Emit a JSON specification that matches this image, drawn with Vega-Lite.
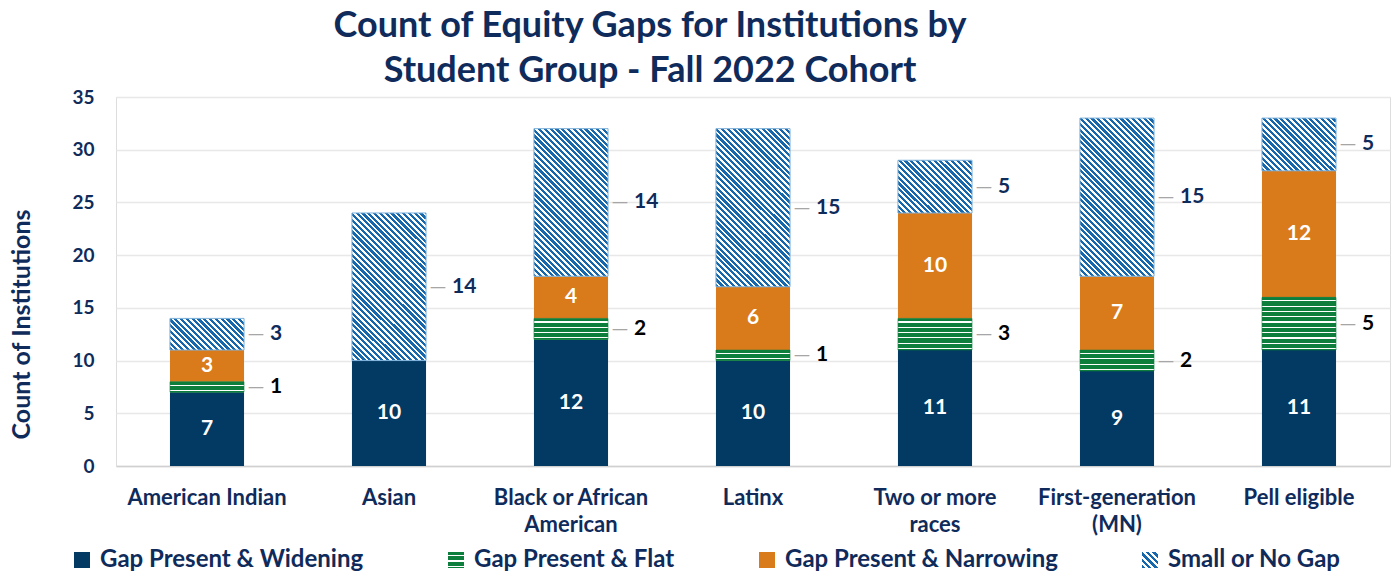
{
  "$schema": "https://vega.github.io/schema/vega-lite/v6.json",
  "width": 1274,
  "height": 369,
  "autosize": "none",
  "padding": {"left": 116, "top": 97, "right": 6, "bottom": 109},
  "background": "white",
  "params": [
    {"name": "hatchStops", "value": [
      {"offset":0,"color":"#1767AC"},{"offset":0.01375,"color":"#1767AC"},{"offset":0.01375,"color":"#FFFFFF"},{"offset":0.025,"color":"#FFFFFF"},
      {"offset":0.025,"color":"#1767AC"},{"offset":0.03875,"color":"#1767AC"},{"offset":0.03875,"color":"#FFFFFF"},{"offset":0.05,"color":"#FFFFFF"},
      {"offset":0.05,"color":"#1767AC"},{"offset":0.06375,"color":"#1767AC"},{"offset":0.06375,"color":"#FFFFFF"},{"offset":0.075,"color":"#FFFFFF"},
      {"offset":0.075,"color":"#1767AC"},{"offset":0.08875,"color":"#1767AC"},{"offset":0.08875,"color":"#FFFFFF"},{"offset":0.1,"color":"#FFFFFF"},
      {"offset":0.1,"color":"#1767AC"},{"offset":0.11375,"color":"#1767AC"},{"offset":0.11375,"color":"#FFFFFF"},{"offset":0.125,"color":"#FFFFFF"},
      {"offset":0.125,"color":"#1767AC"},{"offset":0.13875,"color":"#1767AC"},{"offset":0.13875,"color":"#FFFFFF"},{"offset":0.15,"color":"#FFFFFF"},
      {"offset":0.15,"color":"#1767AC"},{"offset":0.16375,"color":"#1767AC"},{"offset":0.16375,"color":"#FFFFFF"},{"offset":0.175,"color":"#FFFFFF"},
      {"offset":0.175,"color":"#1767AC"},{"offset":0.18875,"color":"#1767AC"},{"offset":0.18875,"color":"#FFFFFF"},{"offset":0.2,"color":"#FFFFFF"},
      {"offset":0.2,"color":"#1767AC"},{"offset":0.21375,"color":"#1767AC"},{"offset":0.21375,"color":"#FFFFFF"},{"offset":0.225,"color":"#FFFFFF"},
      {"offset":0.225,"color":"#1767AC"},{"offset":0.23875,"color":"#1767AC"},{"offset":0.23875,"color":"#FFFFFF"},{"offset":0.25,"color":"#FFFFFF"},
      {"offset":0.25,"color":"#1767AC"},{"offset":0.26375,"color":"#1767AC"},{"offset":0.26375,"color":"#FFFFFF"},{"offset":0.275,"color":"#FFFFFF"},
      {"offset":0.275,"color":"#1767AC"},{"offset":0.28875,"color":"#1767AC"},{"offset":0.28875,"color":"#FFFFFF"},{"offset":0.3,"color":"#FFFFFF"},
      {"offset":0.3,"color":"#1767AC"},{"offset":0.31375,"color":"#1767AC"},{"offset":0.31375,"color":"#FFFFFF"},{"offset":0.325,"color":"#FFFFFF"},
      {"offset":0.325,"color":"#1767AC"},{"offset":0.33875,"color":"#1767AC"},{"offset":0.33875,"color":"#FFFFFF"},{"offset":0.35,"color":"#FFFFFF"},
      {"offset":0.35,"color":"#1767AC"},{"offset":0.36375,"color":"#1767AC"},{"offset":0.36375,"color":"#FFFFFF"},{"offset":0.375,"color":"#FFFFFF"},
      {"offset":0.375,"color":"#1767AC"},{"offset":0.38875,"color":"#1767AC"},{"offset":0.38875,"color":"#FFFFFF"},{"offset":0.4,"color":"#FFFFFF"},
      {"offset":0.4,"color":"#1767AC"},{"offset":0.41375,"color":"#1767AC"},{"offset":0.41375,"color":"#FFFFFF"},{"offset":0.425,"color":"#FFFFFF"},
      {"offset":0.425,"color":"#1767AC"},{"offset":0.43875,"color":"#1767AC"},{"offset":0.43875,"color":"#FFFFFF"},{"offset":0.45,"color":"#FFFFFF"},
      {"offset":0.45,"color":"#1767AC"},{"offset":0.46375,"color":"#1767AC"},{"offset":0.46375,"color":"#FFFFFF"},{"offset":0.475,"color":"#FFFFFF"},
      {"offset":0.475,"color":"#1767AC"},{"offset":0.48875,"color":"#1767AC"},{"offset":0.48875,"color":"#FFFFFF"},{"offset":0.5,"color":"#FFFFFF"},
      {"offset":0.5,"color":"#1767AC"},{"offset":0.51375,"color":"#1767AC"},{"offset":0.51375,"color":"#FFFFFF"},{"offset":0.525,"color":"#FFFFFF"},
      {"offset":0.525,"color":"#1767AC"},{"offset":0.53875,"color":"#1767AC"},{"offset":0.53875,"color":"#FFFFFF"},{"offset":0.55,"color":"#FFFFFF"},
      {"offset":0.55,"color":"#1767AC"},{"offset":0.56375,"color":"#1767AC"},{"offset":0.56375,"color":"#FFFFFF"},{"offset":0.575,"color":"#FFFFFF"},
      {"offset":0.575,"color":"#1767AC"},{"offset":0.58875,"color":"#1767AC"},{"offset":0.58875,"color":"#FFFFFF"},{"offset":0.6,"color":"#FFFFFF"},
      {"offset":0.6,"color":"#1767AC"},{"offset":0.61375,"color":"#1767AC"},{"offset":0.61375,"color":"#FFFFFF"},{"offset":0.625,"color":"#FFFFFF"},
      {"offset":0.625,"color":"#1767AC"},{"offset":0.63875,"color":"#1767AC"},{"offset":0.63875,"color":"#FFFFFF"},{"offset":0.65,"color":"#FFFFFF"},
      {"offset":0.65,"color":"#1767AC"},{"offset":0.66375,"color":"#1767AC"},{"offset":0.66375,"color":"#FFFFFF"},{"offset":0.675,"color":"#FFFFFF"},
      {"offset":0.675,"color":"#1767AC"},{"offset":0.68875,"color":"#1767AC"},{"offset":0.68875,"color":"#FFFFFF"},{"offset":0.7,"color":"#FFFFFF"},
      {"offset":0.7,"color":"#1767AC"},{"offset":0.71375,"color":"#1767AC"},{"offset":0.71375,"color":"#FFFFFF"},{"offset":0.725,"color":"#FFFFFF"},
      {"offset":0.725,"color":"#1767AC"},{"offset":0.73875,"color":"#1767AC"},{"offset":0.73875,"color":"#FFFFFF"},{"offset":0.75,"color":"#FFFFFF"},
      {"offset":0.75,"color":"#1767AC"},{"offset":0.76375,"color":"#1767AC"},{"offset":0.76375,"color":"#FFFFFF"},{"offset":0.775,"color":"#FFFFFF"},
      {"offset":0.775,"color":"#1767AC"},{"offset":0.78875,"color":"#1767AC"},{"offset":0.78875,"color":"#FFFFFF"},{"offset":0.8,"color":"#FFFFFF"},
      {"offset":0.8,"color":"#1767AC"},{"offset":0.81375,"color":"#1767AC"},{"offset":0.81375,"color":"#FFFFFF"},{"offset":0.825,"color":"#FFFFFF"},
      {"offset":0.825,"color":"#1767AC"},{"offset":0.83875,"color":"#1767AC"},{"offset":0.83875,"color":"#FFFFFF"},{"offset":0.85,"color":"#FFFFFF"},
      {"offset":0.85,"color":"#1767AC"},{"offset":0.86375,"color":"#1767AC"},{"offset":0.86375,"color":"#FFFFFF"},{"offset":0.875,"color":"#FFFFFF"},
      {"offset":0.875,"color":"#1767AC"},{"offset":0.88875,"color":"#1767AC"},{"offset":0.88875,"color":"#FFFFFF"},{"offset":0.9,"color":"#FFFFFF"},
      {"offset":0.9,"color":"#1767AC"},{"offset":0.91375,"color":"#1767AC"},{"offset":0.91375,"color":"#FFFFFF"},{"offset":0.925,"color":"#FFFFFF"},
      {"offset":0.925,"color":"#1767AC"},{"offset":0.93875,"color":"#1767AC"},{"offset":0.93875,"color":"#FFFFFF"},{"offset":0.95,"color":"#FFFFFF"},
      {"offset":0.95,"color":"#1767AC"},{"offset":0.96375,"color":"#1767AC"},{"offset":0.96375,"color":"#FFFFFF"},{"offset":0.975,"color":"#FFFFFF"},
      {"offset":0.975,"color":"#1767AC"},{"offset":0.98875,"color":"#1767AC"},{"offset":0.98875,"color":"#FFFFFF"},{"offset":1,"color":"#FFFFFF"}
    ]},
    {"name": "flatStops", "value": [
      {"offset":0,"color":"#0E7E3C"},
      {"offset":0.055,"color":"#0E7E3C"},{"offset":0.055,"color":"#FFFFFF"},{"offset":0.078,"color":"#FFFFFF"},{"offset":0.078,"color":"#0E7E3C"},
      {"offset":0.155,"color":"#0E7E3C"},{"offset":0.155,"color":"#FFFFFF"},{"offset":0.178,"color":"#FFFFFF"},{"offset":0.178,"color":"#0E7E3C"},
      {"offset":0.255,"color":"#0E7E3C"},{"offset":0.255,"color":"#FFFFFF"},{"offset":0.278,"color":"#FFFFFF"},{"offset":0.278,"color":"#0E7E3C"},
      {"offset":0.355,"color":"#0E7E3C"},{"offset":0.355,"color":"#FFFFFF"},{"offset":0.378,"color":"#FFFFFF"},{"offset":0.378,"color":"#0E7E3C"},
      {"offset":0.455,"color":"#0E7E3C"},{"offset":0.455,"color":"#FFFFFF"},{"offset":0.478,"color":"#FFFFFF"},{"offset":0.478,"color":"#0E7E3C"},
      {"offset":0.555,"color":"#0E7E3C"},{"offset":0.555,"color":"#FFFFFF"},{"offset":0.578,"color":"#FFFFFF"},{"offset":0.578,"color":"#0E7E3C"},
      {"offset":0.655,"color":"#0E7E3C"},{"offset":0.655,"color":"#FFFFFF"},{"offset":0.678,"color":"#FFFFFF"},{"offset":0.678,"color":"#0E7E3C"},
      {"offset":0.755,"color":"#0E7E3C"},{"offset":0.755,"color":"#FFFFFF"},{"offset":0.778,"color":"#FFFFFF"},{"offset":0.778,"color":"#0E7E3C"},
      {"offset":0.855,"color":"#0E7E3C"},{"offset":0.855,"color":"#FFFFFF"},{"offset":0.878,"color":"#FFFFFF"},{"offset":0.878,"color":"#0E7E3C"},
      {"offset":0.955,"color":"#0E7E3C"},{"offset":0.955,"color":"#FFFFFF"},{"offset":0.978,"color":"#FFFFFF"},{"offset":0.978,"color":"#0E7E3C"},
      {"offset":1,"color":"#0E7E3C"}
    ]},
    {"name": "legendHatch", "value": {"gradient": "linear", "x1": 0, "y1": 1, "x2": 1, "y2": 0, "stops": [
      {"offset":0,"color":"#1767AC"},{"offset":0.11,"color":"#1767AC"},{"offset":0.11,"color":"#FFFFFF"},{"offset":0.2,"color":"#FFFFFF"},
      {"offset":0.2,"color":"#1767AC"},{"offset":0.31,"color":"#1767AC"},{"offset":0.31,"color":"#FFFFFF"},{"offset":0.4,"color":"#FFFFFF"},
      {"offset":0.4,"color":"#1767AC"},{"offset":0.51,"color":"#1767AC"},{"offset":0.51,"color":"#FFFFFF"},{"offset":0.6,"color":"#FFFFFF"},
      {"offset":0.6,"color":"#1767AC"},{"offset":0.71,"color":"#1767AC"},{"offset":0.71,"color":"#FFFFFF"},{"offset":0.8,"color":"#FFFFFF"},
      {"offset":0.8,"color":"#1767AC"},{"offset":0.91,"color":"#1767AC"},{"offset":0.91,"color":"#FFFFFF"},{"offset":1,"color":"#FFFFFF"}
    ]}},
    {"name": "legendFlat", "value": {"gradient": "linear", "x1": 0, "y1": 0, "x2": 0, "y2": 1, "stops": [
      {"offset":0,"color":"#0E7E3C"},
      {"offset":0.2,"color":"#0E7E3C"},{"offset":0.2,"color":"#FFFFFF"},{"offset":0.28,"color":"#FFFFFF"},{"offset":0.28,"color":"#0E7E3C"},
      {"offset":0.53,"color":"#0E7E3C"},{"offset":0.53,"color":"#FFFFFF"},{"offset":0.61,"color":"#FFFFFF"},{"offset":0.61,"color":"#0E7E3C"},
      {"offset":0.86,"color":"#0E7E3C"},{"offset":0.86,"color":"#FFFFFF"},{"offset":0.94,"color":"#FFFFFF"},{"offset":0.94,"color":"#0E7E3C"},
      {"offset":1,"color":"#0E7E3C"}
    ]}}
  ],
  "title": {
    "text": ["Count of Equity Gaps for Institutions by", "Student Group - Fall 2022 Cohort"],
    "font": "Lato", "fontSize": 36, "fontWeight": "bold", "color": "#0F2B5B",
    "anchor": "middle", "dx": -103, "lineHeight": 45, "offset": -2
  },
  "data": {"values": [
    {"category": "American Indian", "status": "Gap Present & Widening", "count": 7},
    {"category": "American Indian", "status": "Gap Present & Flat", "count": 1},
    {"category": "American Indian", "status": "Gap Present & Narrowing", "count": 3},
    {"category": "American Indian", "status": "Small or No Gap", "count": 3},
    {"category": "Asian", "status": "Gap Present & Widening", "count": 10},
    {"category": "Asian", "status": "Gap Present & Flat", "count": 0},
    {"category": "Asian", "status": "Gap Present & Narrowing", "count": 0},
    {"category": "Asian", "status": "Small or No Gap", "count": 14},
    {"category": "Black or African American", "status": "Gap Present & Widening", "count": 12},
    {"category": "Black or African American", "status": "Gap Present & Flat", "count": 2},
    {"category": "Black or African American", "status": "Gap Present & Narrowing", "count": 4},
    {"category": "Black or African American", "status": "Small or No Gap", "count": 14},
    {"category": "Latinx", "status": "Gap Present & Widening", "count": 10},
    {"category": "Latinx", "status": "Gap Present & Flat", "count": 1},
    {"category": "Latinx", "status": "Gap Present & Narrowing", "count": 6},
    {"category": "Latinx", "status": "Small or No Gap", "count": 15},
    {"category": "Two or more races", "status": "Gap Present & Widening", "count": 11},
    {"category": "Two or more races", "status": "Gap Present & Flat", "count": 3},
    {"category": "Two or more races", "status": "Gap Present & Narrowing", "count": 10},
    {"category": "Two or more races", "status": "Small or No Gap", "count": 5},
    {"category": "First-generation (MN)", "status": "Gap Present & Widening", "count": 9},
    {"category": "First-generation (MN)", "status": "Gap Present & Flat", "count": 2},
    {"category": "First-generation (MN)", "status": "Gap Present & Narrowing", "count": 7},
    {"category": "First-generation (MN)", "status": "Small or No Gap", "count": 15},
    {"category": "Pell eligible", "status": "Gap Present & Widening", "count": 11},
    {"category": "Pell eligible", "status": "Gap Present & Flat", "count": 5},
    {"category": "Pell eligible", "status": "Gap Present & Narrowing", "count": 12},
    {"category": "Pell eligible", "status": "Small or No Gap", "count": 5}
  ]},
  "transform": [
    {"stack": "count", "groupby": ["category"], "as": ["y0", "y1"]}
  ],
  "encoding": {
    "x": {
      "field": "category", "type": "nominal", "sort": null,
      "scale": {"paddingInner": 0.593, "paddingOuter": 0.2965},
      "axis": {
        "title": null, "labelAngle": 0, "ticks": false, "grid": false,
        "domain": true, "domainColor": "#D0D0D0", "domainWidth": 1.5,
        "labelPadding": 21, "labelFont": "Lato", "labelFontSize": 22, "labelFontWeight": "bold",
        "labelColor": "#0F2B5B", "labelLineHeight": 27, "labelLimit": 400,
        "labelExpr": "datum.label == 'Black or African American' ? ['Black or African', 'American'] : datum.label == 'Two or more races' ? ['Two or more', 'races'] : datum.label == 'First-generation (MN)' ? ['First-generation', '(MN)'] : datum.label"
      }
    }
  },
  "layer": [
    {
      "mark": {"type": "bar"},
      "encoding": {
        "y": {
          "field": "y0", "type": "quantitative",
          "scale": {"domain": [0, 35], "nice": false},
          "axis": {
            "title": "Count of Institutions", "values": [0, 5, 10, 15, 20, 25, 30, 35],
            "domain": false, "ticks": false, "labelPadding": 22,
            "labelFont": "Lato", "labelFontSize": 19, "labelFontWeight": "bold", "labelColor": "#0F2B5B",
            "titleFont": "Lato", "titleFontSize": 25, "titleFontWeight": "bold", "titleColor": "#0F2B5B",
            "titlePadding": 37, "titleY": 227, "gridColor": "#E8E8E8", "gridWidth": 1.5
          }
        },
        "y2": {"field": "y1"},
        "color": {
          "field": "status", "type": "nominal",
          "scale": {
            "domain": ["Gap Present & Widening", "Gap Present & Flat", "Gap Present & Narrowing", "Small or No Gap"],
            "range": ["#023A63", {"expr": "legendFlat"}, "#D97A1B", {"expr": "legendHatch"}]
          },
          "legend": {
            "orient": "none", "legendX": -46, "legendY": 451, "direction": "horizontal",
            "title": null, "symbolType": "square", "symbolSize": 256, "symbolStrokeWidth": 0,
            "labelFont": "Lato", "labelFontSize": 24, "labelFontWeight": "bold", "labelColor": "#0F2B5B",
            "labelOffset": 6, "columnPadding": 80, "labelLimit": 500
          }
        }
      }
    },
    {
      "transform": [{"filter": "datum.status == 'Gap Present & Flat' && datum.count > 0"}],
      "mark": {
        "type": "bar", "stroke": "#0E7E3C", "strokeWidth": 0.5,
        "fill": {"expr": "{gradient: 'linear', x1: 0, y1: 0, x2: 0, y2: 5.03 / datum.count, stops: flatStops}"}
      },
      "encoding": {"y": {"field": "y0", "type": "quantitative"}, "y2": {"field": "y1"}}
    },
    {
      "transform": [{"filter": "datum.status == 'Small or No Gap' && datum.count > 0"}],
      "mark": {
        "type": "bar", "stroke": "#7FB2DA", "strokeWidth": 1,
        "fill": {"expr": "{gradient: 'linear', x1: 0, y1: 1, x2: 17163 / (5476 + pow(datum.count * 10.543, 2)), y2: 1 - 17163 / (5476 + pow(datum.count * 10.543, 2)) * datum.count * 10.543 / 74, stops: hatchStops}"}
      },
      "encoding": {"y": {"field": "y0", "type": "quantitative"}, "y2": {"field": "y1"}}
    },
    {
      "transform": [{"filter": "(datum.status == 'Gap Present & Widening' || datum.status == 'Gap Present & Narrowing') && datum.count > 0"}],
      "mark": {
        "type": "text", "font": "Lato", "fontSize": 21, "fontWeight": "bold", "color": "#FFFFFF", "baseline": "middle",
        "y": {"expr": "scale('y', (datum.y0 + datum.y1) / 2)"}
      },
      "encoding": {"text": {"field": "count", "type": "quantitative"}}
    },
    {
      "transform": [{"filter": "(datum.status == 'Gap Present & Flat' || datum.status == 'Small or No Gap') && datum.count > 0"}],
      "mark": {
        "type": "text", "text": "—", "font": "Lato", "fontSize": 22, "color": "#A6A6A6", "baseline": "middle", "align": "center", "xOffset": 49,
        "y": {"expr": "scale('y', (datum.y0 + datum.y1) / 2)"}
      }
    },
    {
      "transform": [{"filter": "(datum.status == 'Gap Present & Flat' || datum.status == 'Small or No Gap') && datum.count > 0"}],
      "mark": {
        "type": "text", "font": "Lato", "fontSize": 21, "fontWeight": "bold", "baseline": "middle", "align": "left", "xOffset": 63,
        "y": {"expr": "scale('y', (datum.y0 + datum.y1) / 2)"},
        "fill": {"expr": "datum.status == 'Small or No Gap' ? '#0F2B5B' : '#000000'"}
      },
      "encoding": {"text": {"field": "count", "type": "quantitative"}}
    }
  ]
}
